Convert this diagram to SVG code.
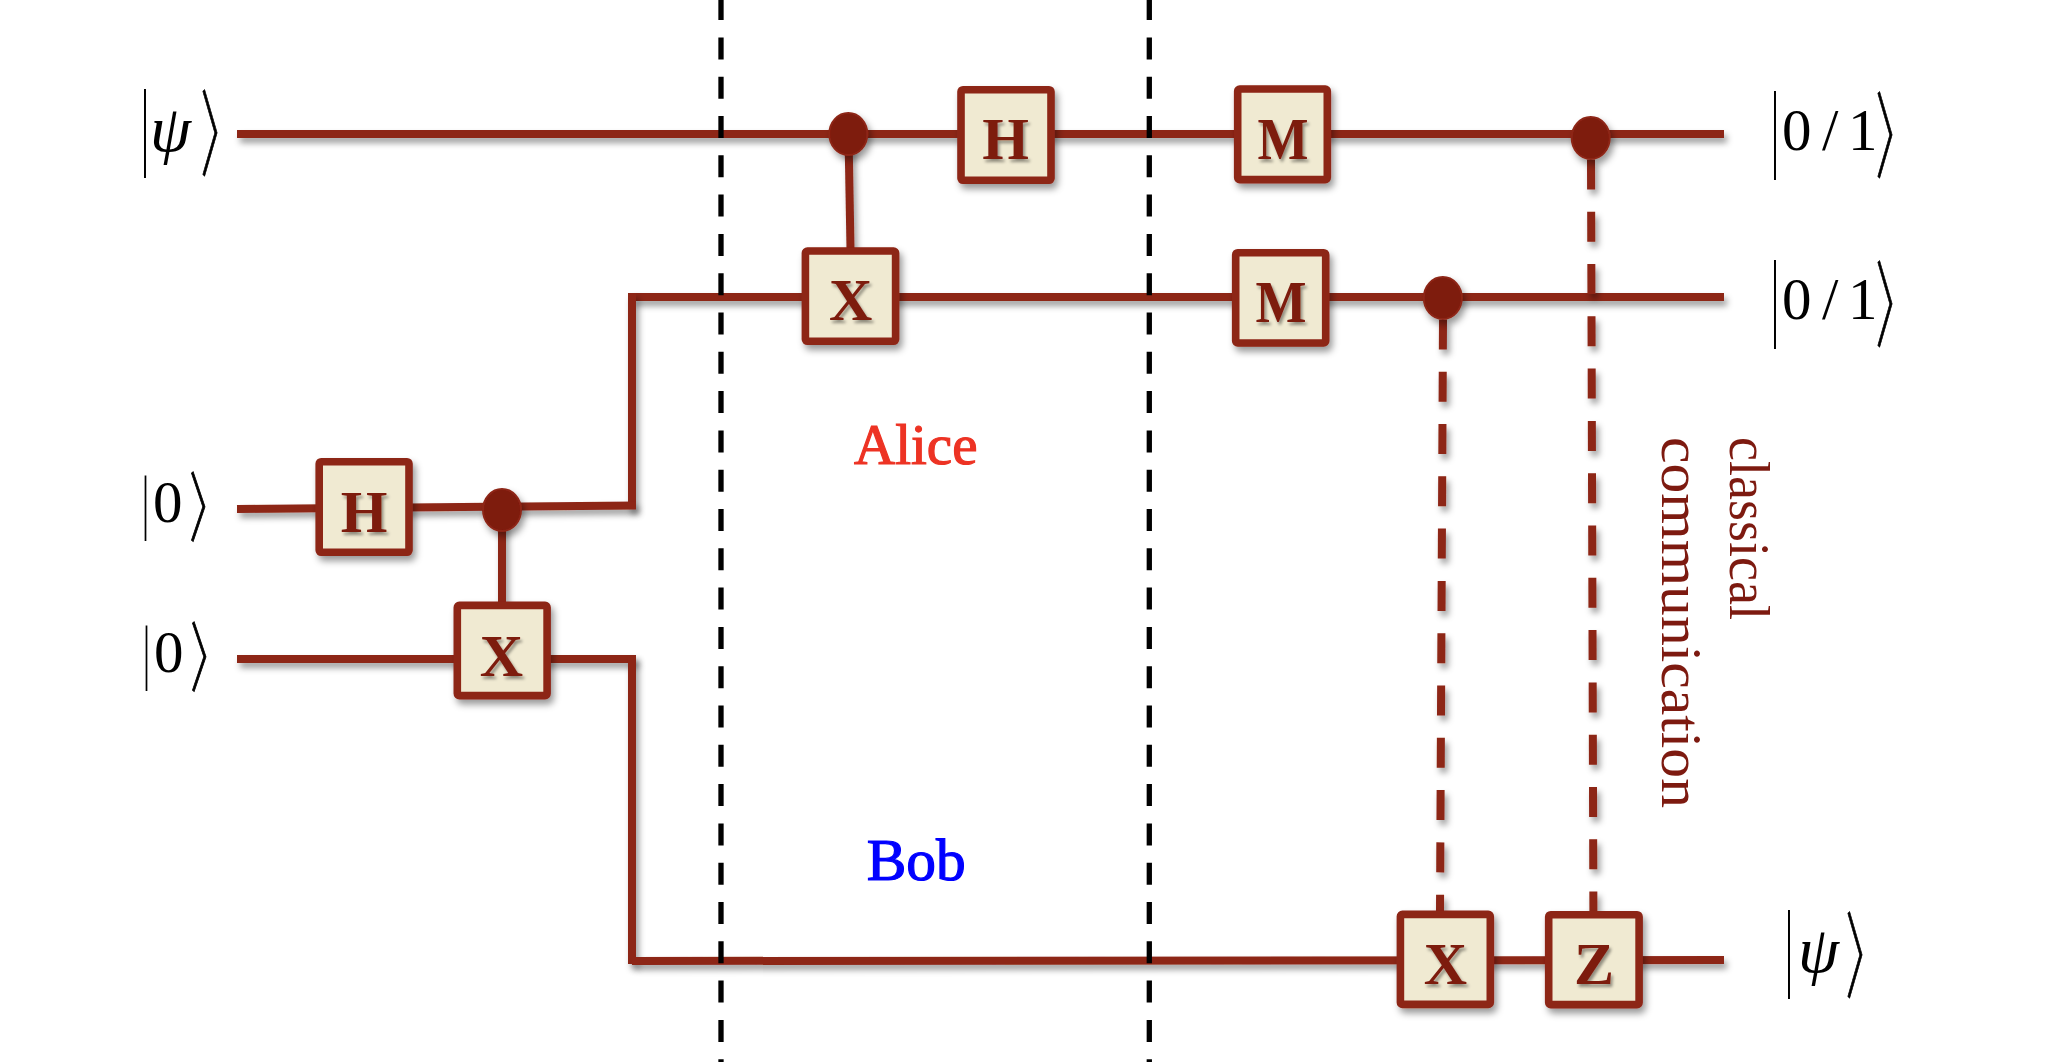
<svg xmlns="http://www.w3.org/2000/svg" width="2064" height="1062" viewBox="0 0 2064 1062">
<defs>
<filter id="sh" x="-30%" y="-30%" width="170%" height="170%"><feDropShadow dx="3" dy="5" stdDeviation="3.5" flood-color="#000" flood-opacity="0.4"/></filter>
<filter id="shw" filterUnits="userSpaceOnUse" x="0" y="0" width="2064" height="1062"><feDropShadow dx="3" dy="5" stdDeviation="3" flood-color="#000" flood-opacity="0.38"/></filter>
<filter id="sht" x="-20%" y="-20%" width="150%" height="150%"><feDropShadow dx="2" dy="3" stdDeviation="1.5" flood-color="#000" flood-opacity="0.4"/></filter>
</defs>
<style>
.w{stroke:#8d2516;stroke-width:8;fill:none;filter:url(#shw)}
.cd{stroke:#8d2516;stroke-width:8;fill:none;stroke-dasharray:30 22.3;filter:url(#shw)}
.bd{stroke:#000;stroke-width:5.3;fill:none;stroke-dasharray:22 17.3}
.g rect{fill:#f0ead2;stroke:#8d2516;stroke-width:7.6;filter:url(#sh)}
.g text{font:bold 60px "Liberation Serif",serif;fill:#7d1a0e;text-anchor:middle;filter:url(#sht)}
.d{fill:#7e1a0d;stroke:#8d2516;stroke-width:2;filter:url(#sh)}
.k{font-family:"Liberation Serif",serif;font-size:59px;fill:#000}
.k .p{font-style:italic;font-size:66px}
.k .b{font-size:98px}
.k .s{font-size:72px}
.k .a,.k .as{font-family:"DejaVu Sans Light",sans-serif;stroke:#000;stroke-width:1}
.k .a{font-size:98px}
.k .as{font-size:79px}
.lab{font-family:"Liberation Serif",serif}
</style>
<rect width="2064" height="1062" fill="#fff"/>
<g id="connectors">
<line class="w" x1="237" y1="134" x2="1724" y2="134"/>
<line class="w" x1="632" y1="297" x2="1724" y2="297"/>
<line class="w" x1="632" y1="293" x2="632" y2="509"/>
<line class="w" x1="237" y1="509" x2="636" y2="505.5"/>
<line class="w" x1="237" y1="659" x2="636" y2="659"/>
<line class="w" x1="632" y1="656" x2="632" y2="964"/>
<line class="w" x1="632" y1="961" x2="1724" y2="960"/>
<line class="w" x1="502" y1="510" x2="502" y2="603"/>
<line class="w" x1="848.5" y1="135" x2="850.5" y2="249"/>
<line class="cd" x1="1591" y1="159.4" x2="1593.4" y2="911"/>
<line class="cd" x1="1443" y1="319.4" x2="1440" y2="911"/>
<line class="bd" x1="721" y1="-1.9" x2="721" y2="1062"/>
<line class="bd" x1="1149.3" y1="-1.9" x2="1149.3" y2="1062"/>
</g>
<g id="gate-h1" class="g"><rect x="319.2" y="461.7" width="89.8" height="90.6" rx="2"/><text x="364" y="532">H</text></g>
<g id="gate-x1" class="g"><rect x="457.3" y="605.4" width="89.8" height="90.2" rx="2"/><text x="501.5" y="676">X</text></g>
<g id="gate-h2" class="g"><rect x="961" y="89.7" width="90" height="90.6" rx="2"/><text x="1005.7" y="159.3">H</text></g>
<g id="gate-x2" class="g"><rect x="805.4" y="251" width="90.2" height="90.3" rx="2"/><text x="850.7" y="320">X</text></g>
<g id="gate-m1" class="g"><rect x="1237.7" y="89" width="89.6" height="90.6" rx="2"/><text x="1283" y="159" textLength="51" lengthAdjust="spacingAndGlyphs">M</text></g>
<g id="gate-m2" class="g"><rect x="1235.7" y="252.7" width="90" height="90.3" rx="2"/><text x="1281" y="322" textLength="51" lengthAdjust="spacingAndGlyphs">M</text></g>
<g id="gate-x3" class="g"><rect x="1400.4" y="914.4" width="89.9" height="90" rx="2"/><text x="1445.5" y="984">X</text></g>
<g id="gate-z" class="g"><rect x="1548.7" y="914.7" width="90.4" height="89.9" rx="2"/><text x="1594" y="984">Z</text></g>
<g id="dot-1"><ellipse class="d" cx="848.3" cy="134" rx="19" ry="21"/></g>
<g id="dot-2"><ellipse class="d" cx="502" cy="510" rx="19" ry="21"/></g>
<g id="dot-3"><ellipse class="d" cx="1590.7" cy="138" rx="19" ry="21"/></g>
<g id="dot-4"><ellipse class="d" cx="1442.8" cy="298" rx="19" ry="21"/></g>
<g id="ket-psi-in"><text class="k"><tspan class="b" x="141" y="157" textLength="8" lengthAdjust="spacingAndGlyphs">|</tspan><tspan class="p" x="150" y="151">ψ</tspan><tspan class="a" x="194.5" y="167.5" textLength="60" lengthAdjust="spacingAndGlyphs">〉</tspan></text></g>
<g id="ket-01-a"><text class="k"><tspan class="b" x="1771" y="159" textLength="8" lengthAdjust="spacingAndGlyphs">|</tspan><tspan x="1782" y="150">0</tspan><tspan x="1822" y="150">/</tspan><tspan x="1848" y="150">1</tspan><tspan class="a" x="1870.4" y="170" textLength="60" lengthAdjust="spacingAndGlyphs">〉</tspan></text></g>
<g id="ket-01-b"><text class="k"><tspan class="b" x="1771" y="328" textLength="8" lengthAdjust="spacingAndGlyphs">|</tspan><tspan x="1782" y="319">0</tspan><tspan x="1822" y="319">/</tspan><tspan x="1848" y="319">1</tspan><tspan class="a" x="1870.4" y="339" textLength="60" lengthAdjust="spacingAndGlyphs">〉</tspan></text></g>
<g id="ket-0-a"><text class="k"><tspan class="s" x="142" y="526" textLength="7" lengthAdjust="spacingAndGlyphs">|</tspan><tspan x="153" y="521.7">0</tspan><tspan class="as" x="183.5" y="535" textLength="57" lengthAdjust="spacingAndGlyphs">〉</tspan></text></g>
<g id="ket-0-b"><text class="k"><tspan class="s" x="143" y="676" textLength="7" lengthAdjust="spacingAndGlyphs">|</tspan><tspan x="154" y="671.7">0</tspan><tspan class="as" x="185" y="685" textLength="57" lengthAdjust="spacingAndGlyphs">〉</tspan></text></g>
<g id="ket-psi-out"><text class="k"><tspan class="b" x="1785" y="978" textLength="8" lengthAdjust="spacingAndGlyphs">|</tspan><tspan class="p" x="1798" y="972">ψ</tspan><tspan class="a" x="1840" y="989.5" textLength="60" lengthAdjust="spacingAndGlyphs">〉</tspan></text></g>
<g id="label-alice"><text class="lab" x="854" y="464.3" font-size="57" fill="#ed3324" stroke="#ed3324" stroke-width="1.2">Alice</text></g>
<g id="label-bob"><text class="lab" x="866.7" y="880" font-size="59.4" fill="#0000ff" stroke="#0000ff" stroke-width="1.2">Bob</text></g>
<g id="label-cc">
<text class="lab" transform="translate(1730,437) rotate(90)" font-size="56" fill="#7d1a10" textLength="183" lengthAdjust="spacingAndGlyphs">classical</text>
<text class="lab" transform="translate(1661.7,437) rotate(90)" font-size="56" fill="#7d1a10" textLength="371" lengthAdjust="spacingAndGlyphs">communication</text>
</g>
</svg>
